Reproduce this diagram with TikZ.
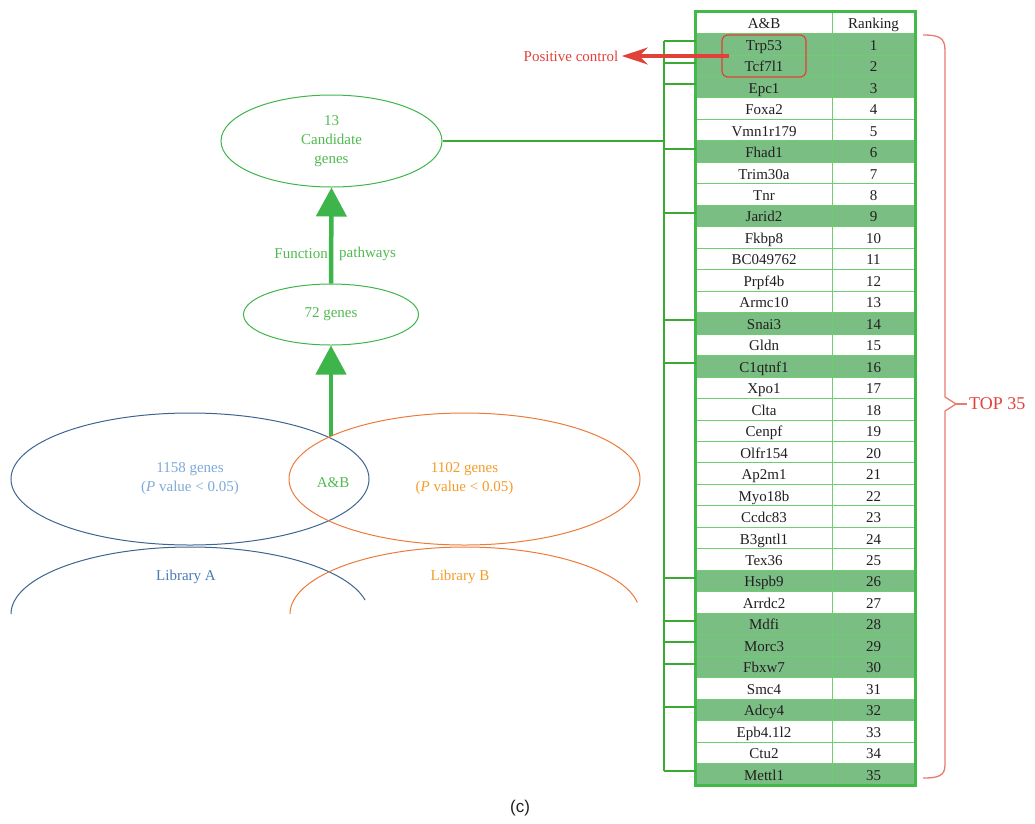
\documentclass[tikz,border=0pt]{standalone}
\usepackage{fontspec}
\setmainfont{Liberation Serif}
\setsansfont{Liberation Sans}
\usetikzlibrary{arrows.meta,fit,positioning,shapes.geometric}
\definecolor{gtext}{RGB}{80,186,80}
\definecolor{garrow}{RGB}{62,181,74}
\definecolor{gborder}{RGB}{66,185,72}
\definecolor{gline}{RGB}{110,205,110}
\definecolor{gfill}{RGB}{122,190,132}
\definecolor{gbracket}{RGB}{58,170,53}
\definecolor{blueA}{RGB}{62,100,145}
\definecolor{bluetext}{RGB}{126,169,217}
\definecolor{bluelabel}{RGB}{74,122,180}
\definecolor{orangeB}{RGB}{236,123,58}
\definecolor{orangetext}{RGB}{243,156,42}
\definecolor{redtext}{RGB}{226,65,58}
\definecolor{redbrace}{RGB}{232,123,112}
\definecolor{celltext}{RGB}{35,31,32}
\tikzset{%
    cell/.style={draw=gline, line width=0.8pt, minimum height=21.47pt, inner sep=0pt,
      text height=14pt, text depth=2pt, text=celltext},
    genecell/.style={cell, minimum width=136pt},
    rankcell/.style={cell, minimum width=83pt},
    gellipse/.style={ellipse, draw=garrow, line width=1pt, inner sep=0pt, text=gtext, align=center},
    vennA/.style={ellipse, draw=blueA, line width=1pt, inner sep=0pt, text=bluetext, align=center},
    vennB/.style={ellipse, draw=orangeB, line width=1pt, inner sep=0pt, text=orangetext, align=center},
    bigarrow/.style={draw=garrow, line width=4.5pt, -{Triangle[length=29pt,width=30pt]}},
    redarrow/.style={draw=redtext, line width=3.2pt, -{Stealth[length=26pt,width=17pt]}},
    tick/.style={draw=gbracket, line width=2pt},
    link/.style={draw=gbracket, line width=1.2pt},
    brace/.style={draw=redbrace, line width=1.3pt},
  }
\begin{document}
\begin{tikzpicture}[x=1pt, y=-1pt, font=\fontsize{15}{19}\selectfont]
    \useasboundingbox (0,0) rectangle (1035,823);
    % table
    \node (hA) [genecell, fill=white] at (764,22.7) {A\&B};
    \node (hR) [rankcell, fill=white] at (873.5,22.7) {Ranking};
    \foreach \k/\gene/\fc in {1/Trp53/gfill, 2/Tcf7l1/gfill, 3/Epc1/gfill, 4/Foxa2/white,
        5/Vmn1r179/white, 6/Fhad1/gfill, 7/Trim30a/white, 8/Tnr/white, 9/Jarid2/gfill,
        10/Fkbp8/white, 11/BC049762/white, 12/Prpf4b/white, 13/Armc10/white, 14/Snai3/gfill,
        15/Gldn/white, 16/C1qtnf1/gfill, 17/Xpo1/white, 18/Clta/white, 19/Cenpf/white,
        20/Olfr154/white, 21/Ap2m1/white, 22/Myo18b/white, 23/Ccdc83/white, 24/B3gntl1/white,
        25/Tex36/white, 26/Hspb9/gfill, 27/Arrdc2/white, 28/Mdfi/gfill, 29/Morc3/gfill,
        30/Fbxw7/gfill, 31/Smc4/white, 32/Adcy4/gfill, 33/Epb4.1l2/white, 34/Ctu2/white,
        35/Mettl1/gfill}{
      \pgfmathsetmacro\yc{12+21.47*(\k+0.5)}
      \node (g\k) [genecell, fill=\fc] at (764,\yc) {\gene};
      \node (r\k) [rankcell, fill=\fc] at (873.5,\yc) {\k};
    }
    \node (tab) [draw=gborder, line width=2.5pt, inner sep=0pt, fit=(hA)(r35)] {};
    %
    \coordinate (spine) at (664,0);
    \foreach \k in {1,2,3,6,9,14,16,26,28,29,30,32,35}{
      \coordinate (t\k) at ([yshift=3pt]g\k.west);
      \draw [tick] (t\k) -- (t\k -| spine);
    }
    \draw [link] (t1 -| spine) -- (t35 -| spine);
    %
    \node (cand) [gellipse, minimum width=221pt, minimum height=92pt] at (331.5,141) {13\\Candidate\\genes};
    \node (g72) [gellipse, minimum width=175pt, minimum height=61pt] at (331,314.5) {72 genes};
    \draw [link] (cand.east) -- (cand.east -| spine);
    \node (fn) [text=gtext, anchor=east, inner sep=0pt] at (328,254) {Function};
    \node (pw) [text=gtext, anchor=west, inner sep=0pt] at (339,254) {pathways};
    %
    \node (libA) [vennA, minimum width=358pt, minimum height=132pt] at (190,479) {1158 genes\\(\textit{P} value < 0.05)};
    \node (libB) [vennB, minimum width=351pt, minimum height=132pt] at (464.5,479) {1102 genes\\(\textit{P} value < 0.05)};
    \node (ab) [text=gtext] at (333,483) {A\&B};
    \coordinate (abtop) at (331,436);
    \draw [bigarrow] (abtop) -- (g72.south);
    \draw [bigarrow] (g72.north) -- (cand.south);
    %
    \draw [draw=blueA, line width=1pt] (11,614) arc [start angle=180, end angle=12, x radius=179pt, y radius=67pt];
    \draw [draw=orangeB, line width=1pt] (290,614) arc [start angle=180, end angle=10, x radius=175pt, y radius=67pt];
    \node (labA) [text=bluelabel] at (186,577) {Library A};
    \node (labB) [text=orangetext] at (460,577) {Library B};
    %
    \node (pc) [draw=redtext, line width=1.2pt, rounded corners=6pt, minimum width=84pt, minimum height=42pt] at (764,56) {};
    \node (pclabel) [text=redtext] at (571,56) {Positive control};
    \draw [redarrow] ([xshift=8pt]pc.west) -- (pclabel.east);
    %
    \coordinate (bracetip) at (956,404);
    \draw [brace] (923,35) .. controls (938,35) and (945,37) .. (945,50) -- (945,397) -- (bracetip)
      -- (945,411) -- (945,765) .. controls (945,776) and (938,778) .. (923,778);
    \node (top35) [text=redtext, font=\fontsize{18}{21}\selectfont, anchor=west, inner sep=2pt] at (967,404) {TOP 35};
    \draw [brace] (bracetip) -- (top35.west);
    %
    \node (cap) [text=celltext, font=\sffamily\fontsize{17}{20}\selectfont] at (520,808) {(c)};
\end{tikzpicture}
\end{document}
